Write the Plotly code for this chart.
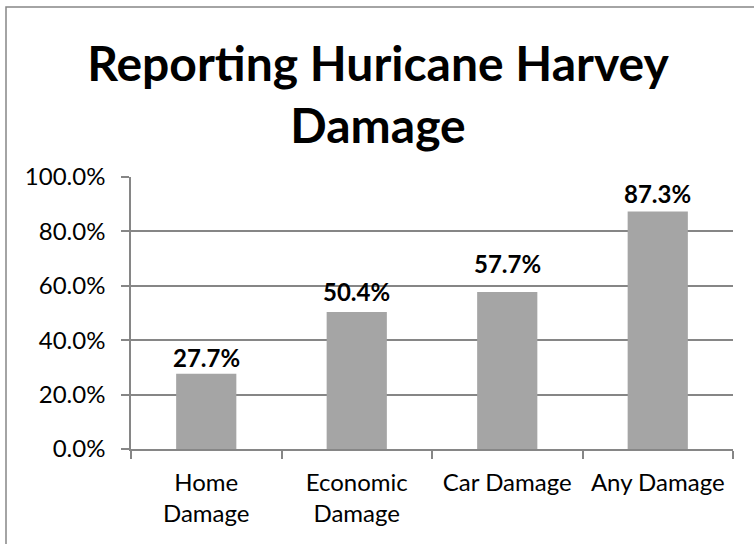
import plotly.graph_objects as go

# Share of respondents reporting each kind of damage
categories = ["Home<br>Damage", "Economic<br>Damage", "Car Damage", "Any Damage"]
shares = [0.277, 0.504, 0.577, 0.873]
y_ticks = [0.0, 0.2, 0.4, 0.6, 0.8, 1.0]
# vertical lift (px) of each value label above its bar
label_lift = [0, 4, 12, 2]

W, H = 754, 544
L, R, T, B = 131, 21, 177, 95
pw, ph = W - L - R, H - T - B

GRID = "#868686"
BAR = "#A5A5A5"
FONT = "Lato"

fig = go.Figure(
    go.Bar(
        x=categories,
        y=shares,
        marker=dict(color=BAR, line=dict(width=0)),
        hovertemplate="%{y:.1%}<extra></extra>",
    )
)

# value labels above the bars
for cat, val, lift in zip(categories, shares, label_lift):
    fig.add_annotation(
        x=cat,
        y=val,
        text=f"<b>{val:.1%}</b>",
        showarrow=False,
        yanchor="bottom",
        xanchor="center",
        yshift=lift,
        font=dict(family=FONT, size=24, color="#000000"),
    )

fig.update_layout(
    width=W,
    height=H,
    margin=dict(l=L, r=R, t=T, b=B, autoexpand=False),
    paper_bgcolor="white",
    plot_bgcolor="white",
    bargap=0.6,
    showlegend=False,
    font=dict(family=FONT, size=24, color="#000000"),
    title=dict(
        text="<b>Reporting Huricane Harvey<br>Damage</b>",
        font=dict(family=FONT, size=48, color="#000000"),
        x=378 / W,
        xref="container",
        xanchor="center",
        y=1 - 81 / H,
        yref="container",
        yanchor="top",
    ),
    xaxis=dict(
        showline=True,
        linecolor=GRID,
        linewidth=1.5,
        ticks="outside",
        tickson="boundaries",
        ticklen=8,
        tickcolor=GRID,
        tickwidth=1.5,
        showgrid=False,
        tickfont=dict(family=FONT, size=24, color="#000000"),
        ticklabelstandoff=11,
    ),
    yaxis=dict(
        range=[0, 1],
        tickvals=y_ticks,
        tickformat=".1%",
        showline=True,
        linecolor=GRID,
        linewidth=1.5,
        ticks="outside",
        ticklen=8,
        tickcolor=GRID,
        tickwidth=1.5,
        showgrid=True,
        gridcolor=GRID,
        gridwidth=1.5,
        zeroline=False,
        tickfont=dict(family=FONT, size=24, color="#000000"),
        ticklabelstandoff=11,
    ),
    shapes=[
        dict(
            type="rect",
            xref="paper",
            yref="paper",
            x0=(6 - L) / pw,
            x1=(W + 10 - L) / pw,
            y0=-(H + 10 - (H - B)) / ph,
            y1=(H - B - 7) / ph,
            line=dict(color=GRID, width=1.5),
            layer="below",
        )
    ],
)

fig.write_html("out.html")
